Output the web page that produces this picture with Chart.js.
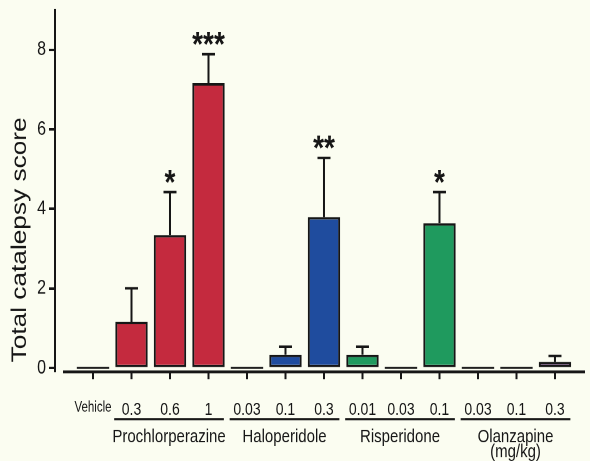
<!DOCTYPE html>
<html>
<head>
<meta charset="utf-8">
<script src="https://cdn.jsdelivr.net/npm/chart.js@4"></script>
<style>
  html, body { margin: 0; padding: 0; background: #fbfdf1; }
</style>
</head>
<body>
<!-- the scanned figure is stretched vertically, so the canvas is too -->
<canvas id="cat" width="590" height="369" style="width:590px;height:461px"></canvas>
<script>
const doses = ["Vehicle", "0.3", "0.6", "1", "0.03", "0.1", "0.3", "0.01", "0.03", "0.1", "0.03", "0.1", "0.3"];
const drugOf = ["Vehicle", "Prochlorperazine", "Prochlorperazine", "Prochlorperazine",
  "Haloperidole", "Haloperidole", "Haloperidole", "Risperidone", "Risperidone", "Risperidone",
  "Olanzapine", "Olanzapine", "Olanzapine"];
const meanScore = [0, 1.16, 3.34, 7.16, 0, 0.33, 3.79, 0.33, 0, 3.64, 0, 0, 0.15];
const semScore = [0, 0.84, 1.08, 0.73, 0, 0.2, 1.49, 0.2, 0, 0.78, 0, 0, 0.15];
const stars = ["", "", "*", "***", "", "", "**", "", "", "*", "", "", ""];
const groups = ["Prochlorperazine", "Haloperidole", "Risperidone", "Olanzapine"];
const groupFirst = [1, 4, 7, 10];
const groupLast = [3, 6, 9, 12];
const yTicks = [0, 2, 4, 6, 8];

const drugColor = {
  Vehicle: "#222",
  Prochlorperazine: "#c42a3e",
  Haloperidole: "#1f4c9e",
  Risperidone: "#1f9a5e",
  Olanzapine: "#6b3b7a"
};

const ink = "#161616";
const FONT = "Arial, 'Liberation Sans', sans-serif";

const extras = {
  id: "extras",
  afterDraw(chart) {
    const ctx = chart.ctx;
    const x = chart.scales.x, y = chart.scales.y;
    const area = chart.chartArea;
    const bars = chart.getDatasetMeta(0).data;
    ctx.save();
    ctx.strokeStyle = ink;
    ctx.fillStyle = ink;

    // x axis line, starting a little right of the y axis
    ctx.lineWidth = 2.2;
    ctx.beginPath();
    ctx.moveTo(area.left + 8, area.bottom);
    ctx.lineTo(area.right, area.bottom);
    ctx.stroke();

    bars.forEach((bar, i) => {
      const half = bar.width / 2;
      const y0 = y.getPixelForValue(0);
      if (meanScore[i] === 0) {
        ctx.lineWidth = 1.6;
        ctx.beginPath();
        ctx.moveTo(bar.x - half, y0);
        ctx.lineTo(bar.x + half, y0);
        ctx.stroke();
      }
      if (semScore[i] > 0) {
        const top = y.getPixelForValue(meanScore[i] + semScore[i]);
        ctx.lineWidth = 2;
        ctx.beginPath();
        ctx.moveTo(bar.x, bar.y);
        ctx.lineTo(bar.x, top);
        ctx.moveTo(bar.x - 6.5, top);
        ctx.lineTo(bar.x + 6.5, top);
        ctx.stroke();
      }
      if (stars[i]) {
        const top = y.getPixelForValue(meanScore[i] + semScore[i]);
        ctx.font = "bold 28px " + FONT;
        ctx.textAlign = "center";
        ctx.textBaseline = "alphabetic";
        ctx.fillText(stars[i], bar.x, top + 1);
      }
    });

    // drug group underlines and names
    groups.forEach((name, g) => {
      const x1 = x.getPixelForValue(groupFirst[g] - 0.45);
      const x2 = x.getPixelForValue(groupLast[g] + 0.4);
      ctx.lineWidth = 1.8;
      ctx.beginPath();
      ctx.moveTo(x1, 335.5);
      ctx.lineTo(x2, 335.5);
      ctx.stroke();
      ctx.font = "15px " + FONT;
      ctx.textAlign = "center";
      ctx.textBaseline = "middle";
      ctx.fillText(name, (x1 + x2) / 2, 350);
      if (g === groups.length - 1) ctx.fillText("(mg/kg)", (x1 + x2) / 2, 362);
    });

    // y axis title
    ctx.translate(20, 192);
    ctx.rotate(-Math.PI / 2);
    ctx.font = "21px " + FONT;
    ctx.textAlign = "center";
    ctx.textBaseline = "middle";
    ctx.fillText("Total catalepsy score", 0, 0);
    ctx.restore();
  }
};

new Chart(document.getElementById("cat"), {
  type: "bar",
  data: {
    datasets: [{
      data: meanScore.map((v, i) => ({ x: i, y: v })),
      backgroundColor: drugOf.map(d => drugColor[d]),
      borderColor: ink,
      borderWidth: 2,
      borderSkipped: false,
      barPercentage: 0.84,
      categoryPercentage: 1
    }]
  },
  options: {
    responsive: false,
    devicePixelRatio: 2,
    animation: false,
    layout: { padding: { top: 8, right: 5, left: 0, bottom: 0 } },
    plugins: { legend: { display: false }, tooltip: { enabled: false } },
    scales: {
      x: {
        type: "linear",
        offset: false,
        min: -0.987,
        max: 12.78,
        afterBuildTicks: s => { s.ticks = doses.map((_, i) => ({ value: i })); },
        afterFit: s => { s.height = 71.4; s.paddingLeft = 0; s.paddingRight = 0; },
        border: { display: false },
        grid: { offset: false, drawOnChartArea: false, tickLength: 6, tickWidth: 2, tickColor: ink },
        ticks: {
          color: ink,
          padding: 16,
          maxRotation: 0,
          autoSkip: false,
          font: c => ({ family: FONT, size: c.index === 0 ? 11.5 : 14 }),
          callback: v => doses[v]
        }
      },
      y: {
        min: -0.1,
        max: 9,
        afterBuildTicks: s => { s.ticks = yTicks.map(v => ({ value: v })); },
        afterFit: s => { s.width = 55; s.paddingTop = 0; s.paddingBottom = 0; },
        border: { color: ink, width: 2 },
        grid: { drawOnChartArea: false, tickLength: 6, tickWidth: 2, tickColor: ink },
        ticks: { color: ink, padding: 3, font: { family: FONT, size: 16 } }
      }
    }
  },
  plugins: [extras]
});
</script>
</body>
</html>
